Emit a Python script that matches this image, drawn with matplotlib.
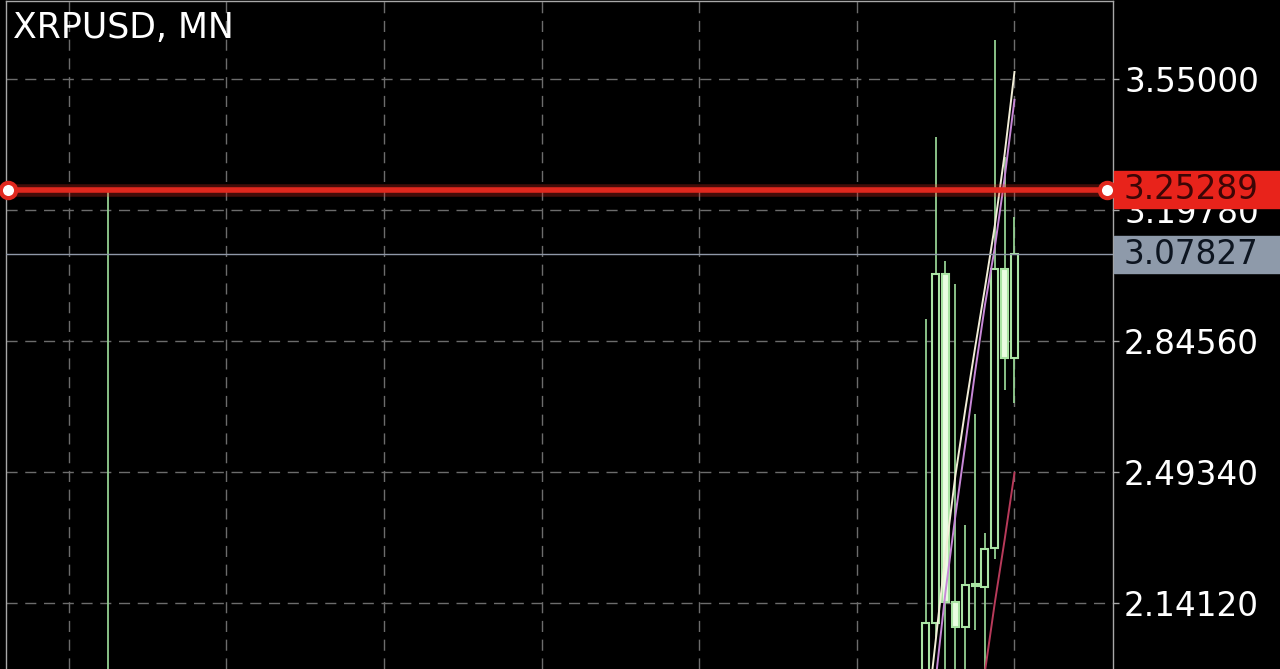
import matplotlib
matplotlib.use('Agg')
import matplotlib.pyplot as plt
from matplotlib.patches import Rectangle

# monthly candles, month index counted from Jan 2018
months = [0, 83, 84, 85, 86, 87, 88, 89, 90, 91, 92]
opens = [1.90, 1.90, 2.0875, 3.0257, 2.144, 2.077, 2.190, 2.184, 2.289, 3.039, 2.800]
highs = [3.25289, 2.905, 3.394, 3.061, 2.999, 2.351, 2.649, 2.329, 3.655, 3.340, 3.179]
lows = [0.95, 1.80, 2.050, 1.770, 1.900, 1.610, 2.069, 1.900, 2.260, 2.714, 2.679]
closes = [1.10, 2.0875, 3.0257, 2.144, 2.077, 2.190, 2.187, 2.286, 3.039, 2.800, 3.07827]

# moving averages
ma_months = [83, 84, 85, 86, 87, 88, 89, 90, 91, 92]
ma_fast = [1.805, 2.039, 2.273, 2.483, 2.660, 2.827, 2.988, 3.155, 3.348, 3.569]
ma_mid = [1.692, 1.934, 2.171, 2.375, 2.566, 2.762, 2.942, 3.096, 3.284, 3.494]
ma_slow_months = [88, 89, 90, 91, 92]
ma_slow = [1.773, 1.956, 2.141, 2.311, 2.491]

price_ticks = [2.14120, 2.49340, 2.84560, 3.19780, 3.55000]
grid_months = [-4, 12, 28, 44, 60, 76, 92]
level_line = 3.25289
last_price = 3.07827
symbol = "XRPUSD, MN"

W, H = 1280, 669
fig = plt.figure(figsize=(W / 100, H / 100), dpi=100, facecolor='black')
ax = fig.add_axes([6 / W, 0, 1107 / W, 668 / H])
ax.set_facecolor('black')
ax.set_xlim(-10.35, 102.0)
ax.set_ylim(1.9638, 3.7597)

# grid
ax.set_axisbelow(True)
ax.set_xticks(grid_months)
ax.tick_params(axis='x', length=0, labelbottom=False)
ax.grid(True, color='#6c6c6c', lw=1, ls=(0, (8, 5.5)))

# price axis on the right
ax.yaxis.tick_right()
ax.set_yticks(price_ticks, labels=[f"{t:.5f}" for t in price_ticks])
ax.tick_params(axis='y', length=4, width=1, color='#a8a8a8',
               labelcolor='white', labelsize=23.5, pad=4)
for s in ['top', 'left', 'right']:
    ax.spines[s].set_color('#a8a8a8')
    ax.spines[s].set_linewidth(1)
ax.spines['bottom'].set_visible(False)

# candles
wick_color = '#94d092'
edge_color = '#aae4a4'
bear_face = '#eafde2'
ax.vlines(months, lows, highs, color=wick_color, lw=1.3, zorder=2)
bottoms = [min(o, c) for o, c in zip(opens, closes)]
heights = [max(abs(c - o), 0.004) for o, c in zip(opens, closes)]
faces = ['black' if c >= o else bear_face for o, c in zip(opens, closes)]
ax.bar(months, heights, 0.72, bottom=bottoms, color=faces,
       edgecolor=edge_color, linewidth=1.5, zorder=3)

# moving averages
ax.plot(ma_months, ma_mid, color='#c888d8', lw=1.4, zorder=4)
ax.plot(ma_months, ma_fast, color='#f2eed8', lw=1.4, zorder=4)
ax.plot(ma_slow_months, ma_slow, color='#b83a5a', lw=1.4, zorder=4)

# last price line
ax.axhline(last_price, color='#8f98a8', lw=1, zorder=4)

# horizontal level with handles
ax.axhline(level_line, color='#e0281e', lw=9, alpha=0.3, zorder=5)
ax.axhline(level_line, color='#e0281e', lw=4, zorder=5)
x0, x1 = ax.get_xlim()
ax.plot([x0 + 0.2, x1 - 0.6], [level_line, level_line], 'o', ms=11,
        mfc='white', mec='#e0281e', mew=3, zorder=6, clip_on=False)

# price tags on the axis
to_fig = fig.transFigure.inverted()


def tag(price, face, text_color):
    y = to_fig.transform(ax.transData.transform((0, price)))[1]
    h = 37 / H
    fig.add_artist(Rectangle((1114 / W, y - h / 2), 166 / W, h,
                             transform=fig.transFigure, color=face, zorder=5))
    fig.text(1124 / W, y, f"{price:.5f}", color=text_color, fontsize=23.5,
             va='center', ha='left', zorder=6)


tag(level_line, '#e8231b', '#3c0606')
tag(last_price, '#8e9aaa', '#0d1520')

fig.text(13 / W, 1 - 28 / H, symbol, color='white', fontsize=25,
         va='center', ha='left')

fig.savefig('out.png', dpi=100, facecolor='black')
